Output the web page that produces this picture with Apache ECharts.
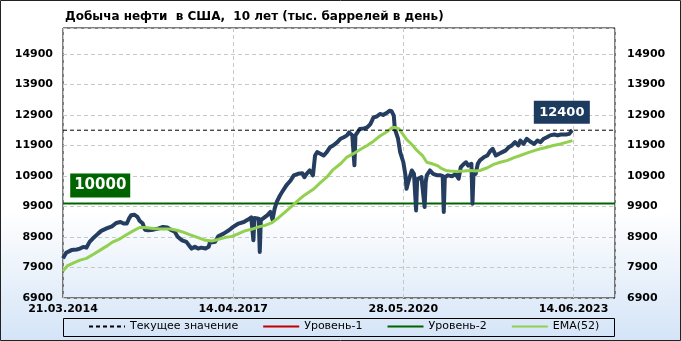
<!DOCTYPE html>
<html><head><meta charset="utf-8">
<script src="https://cdn.jsdelivr.net/npm/echarts@6/dist/echarts.min.js"></script>
<style>html,body{margin:0;padding:0;background:#fff}#c{width:681px;height:341px}</style>
</head><body><div id="c"></div>
<script>
// ---- data (weeks since 21.03.2014) ----
const xTickLabels = ['21.03.2014', '14.04.2017', '28.05.2020', '14.06.2023'];
const yTickValues = [6900, 7900, 8900, 9900, 10900, 11900, 12900, 13900, 14900];
const prodWeeks = [0,3,8,13,16,19,22,25,28,33,36,41,46,50,54,57,60,62,64,67,70,72,75,77,80,85,90,94,98,102,105,108,112,116,119,121,124,127,130,134,137,138,143,146,151,156,160,165,170,174,177,178,179,180,181,184,185,186,187,192,195,197,199,201,204,207,210,214,217,221,225,227,229,232,235,237,239,242,245,248,251,254,258,261,264,267,269,272,273,274,275,276,279,283,286,289,292,295,298,301,305,307,309,311,312,315,317,320,322,323,325,328,330,331,332,333,334,337,338,340,341,342,345,348,352,355,357,358,359,362,366,369,372,374,377,379,381,384,385,386,388,390,392,396,399,402,404,407,410,413,416,419,422,425,428,430,433,436,440,443,446,449,452,455,458,462,465,468,471,473,476,478,479];
const production = [8200,8380,8470,8490,8520,8575,8550,8740,8850,9010,9100,9180,9250,9360,9390,9340,9340,9500,9610,9630,9560,9430,9340,9140,9120,9140,9180,9230,9210,9120,9070,8900,8790,8740,8600,8520,8580,8520,8550,8520,8580,8710,8740,8925,9010,9120,9230,9340,9390,9470,9540,9500,8790,9520,9560,9500,8410,9450,9450,9610,9720,9470,9830,10050,10260,10430,10590,10750,10920,10970,10990,10860,10970,11080,10920,11570,11680,11630,11570,11680,11840,11900,12010,12120,12170,12230,12330,12230,12200,11250,12230,12230,12440,12460,12490,12600,12820,12850,12930,12900,12980,13040,13020,12880,12440,12120,11680,11350,10920,10480,10750,11080,10970,10950,9770,10800,10810,10860,10530,9880,10700,10920,11080,10970,10920,10920,10900,9720,10860,10920,10890,10970,10810,11190,11300,11350,11240,11300,9990,11000,10970,11300,11410,11520,11570,11730,11790,11570,11630,11680,11730,11840,11900,12010,11900,12060,11950,12120,12010,11950,12060,12010,12120,12170,12230,12260,12230,12260,12260,12260,12280,12370,12400];
const emaWeeks = [0,4,10,16,22,29,35,41,47,54,60,66,72,77,85,91,101,107,113,119,127,134,140,146,152,159,165,171,178,184,190,196,203,209,215,221,227,236,242,248,254,261,267,273,279,286,292,298,305,309,312,316,320,323,328,333,338,342,347,352,356,360,364,370,377,383,388,392,399,405,411,418,424,430,436,443,449,455,461,468,474,479];
const ema52 = [7780,7950,8050,8140,8200,8340,8470,8600,8740,8850,8980,9100,9210,9210,9180,9160,9160,9120,9060,8980,8880,8790,8770,8820,8880,8920,9010,9100,9160,9230,9280,9360,9540,9720,9900,10100,10270,10480,10680,10860,11110,11300,11520,11630,11760,11900,12040,12210,12360,12480,12490,12440,12250,12100,11930,11730,11570,11350,11300,11240,11140,11080,11060,11050,11060,11080,11060,11080,11170,11280,11350,11410,11500,11570,11650,11730,11790,11840,11900,11950,12010,12060];
const currentValue = 12400;
const level2 = 10000;
const level1 = [];  // not visible in range
const xMax = 519;

const chart = echarts.init(document.getElementById('c'), null, {renderer: 'canvas'});
const pair = (xs, ys) => xs.map((x, i) => [x, ys[i]]);
const yFmt = v => yTickValues.indexOf(v) >= 0 ? String(v) : '';
const FONT = 'DejaVu Sans';

const option = {
  animation: false,
  backgroundColor: new echarts.graphic.LinearGradient(0, 0, 0, 1, [
    {offset: 0, color: '#ffffff'}, {offset: 0.62, color: '#ffffff'}, {offset: 1, color: '#d4e4f7'}
  ]),
  title: {
    text: 'Добыча нефти  в США,  10 лет (тыс. баррелей в день)',
    left: 60, top: 6,
    textStyle: {fontFamily: FONT, fontSize: 12, fontWeight: 'bold', color: '#000'}
  },
  grid: {left: 63, right: 66, top: 28, bottom: 43, show: true, borderColor: '#000', borderWidth: 1, backgroundColor: 'transparent'},
  xAxis: {
    type: 'value', min: 0, max: xMax, interval: 160,
    axisLine: {show: false}, axisTick: {show: false},
    splitLine: {show: true, lineStyle: {color: '#c8c8c8', type: [4, 3]}},
    axisLabel: {
      showMaxLabel: false, margin: 6,
      fontFamily: FONT, fontSize: 11, fontWeight: 'bold', color: '#000',
      formatter: v => (v % 160 === 0 && xTickLabels[v / 160]) ? xTickLabels[v / 160] : ''
    }
  },
  yAxis: [{
    type: 'value', min: 6900, max: 15750, interval: 1000, position: 'left',
    axisLine: {show: false}, axisTick: {show: false},
    splitLine: {show: true, lineStyle: {color: '#c8c8c8', type: [4, 3]}},
    axisLabel: {margin: 10, fontFamily: FONT, fontSize: 11, fontWeight: 'bold', color: '#000', formatter: yFmt, showMaxLabel: false}
  }, {
    type: 'value', min: 6900, max: 15750, interval: 1000, position: 'right',
    axisLine: {show: false}, axisTick: {show: false}, splitLine: {show: false},
    axisLabel: {margin: 12, fontFamily: FONT, fontSize: 11, fontWeight: 'bold', color: '#000', formatter: yFmt, showMaxLabel: false}
  }],
  legend: {
    data: ['Текущее значение', 'Уровень-1', 'Уровень-2', 'EMA(52)'],
    left: 88, top: 321, padding: 0, itemGap: 24, itemWidth: 36, itemHeight: 12,
    itemStyle: {opacity: 0},
    textStyle: {fontFamily: FONT, fontSize: 11, color: '#000'}
  },
  graphic: [
    {type: 'rect', shape: {x: 63.5, y: 318.5, width: 551, height: 18}, style: {fill: 'transparent', stroke: '#000', lineWidth: 1}, silent: true},
    {type: 'rect', shape: {x: 0.5, y: 0.5, width: 680, height: 340}, style: {fill: 'transparent', stroke: '#222', lineWidth: 1}, silent: true}
  ],
  series: [
    {
      name: 'Уровень-2', type: 'line', symbol: 'none', z: 2,
      data: [[0, level2], [xMax, level2]],
      lineStyle: {color: '#006400', width: 2}, itemStyle: {color: '#006400'},
      markPoint: {
        symbol: 'rect', symbolSize: [60, 24], symbolOffset: [0, -18], silent: true,
        itemStyle: {color: '#006400', opacity: 1},
        label: {show: true, position: 'inside', formatter: String(level2), color: '#fff', fontFamily: FONT, fontSize: 15, fontWeight: 'bold'},
        data: [{coord: [35, level2]}]
      }
    },
    {
      name: 'Уровень-1', type: 'line', symbol: 'none', z: 2,
      data: level1, lineStyle: {color: '#c00000', width: 2}, itemStyle: {color: '#c00000'}
    },
    {
      name: 'Добыча', type: 'line', symbol: 'none', z: 3,
      data: pair(prodWeeks, production),
      lineStyle: {color: '#253e60', width: 4, join: 'round'}, itemStyle: {color: '#253e60'}
    },
    {
      name: 'EMA(52)', type: 'line', symbol: 'none', z: 4,
      data: pair(emaWeeks, ema52),
      lineStyle: {color: '#92d050', width: 3}, itemStyle: {color: '#92d050'}
    },
    {
      name: 'Текущее значение', type: 'line', symbol: 'none', z: 5,
      data: [[0, currentValue], [xMax, currentValue]],
      lineStyle: {color: '#000', width: 1, type: [4, 3]}, itemStyle: {color: '#000'},
      markPoint: {
        symbol: 'rect', symbolSize: [56, 23], symbolOffset: [0, -18], silent: true,
        itemStyle: {color: '#1d3a5f', opacity: 1},
        label: {show: true, position: 'inside', formatter: String(currentValue), color: '#fff', fontFamily: FONT, fontSize: 13, fontWeight: 'bold'},
        data: [{coord: [469, currentValue]}]
      }
    }
  ]
};
chart.setOption(option);
</script>
</body></html>
